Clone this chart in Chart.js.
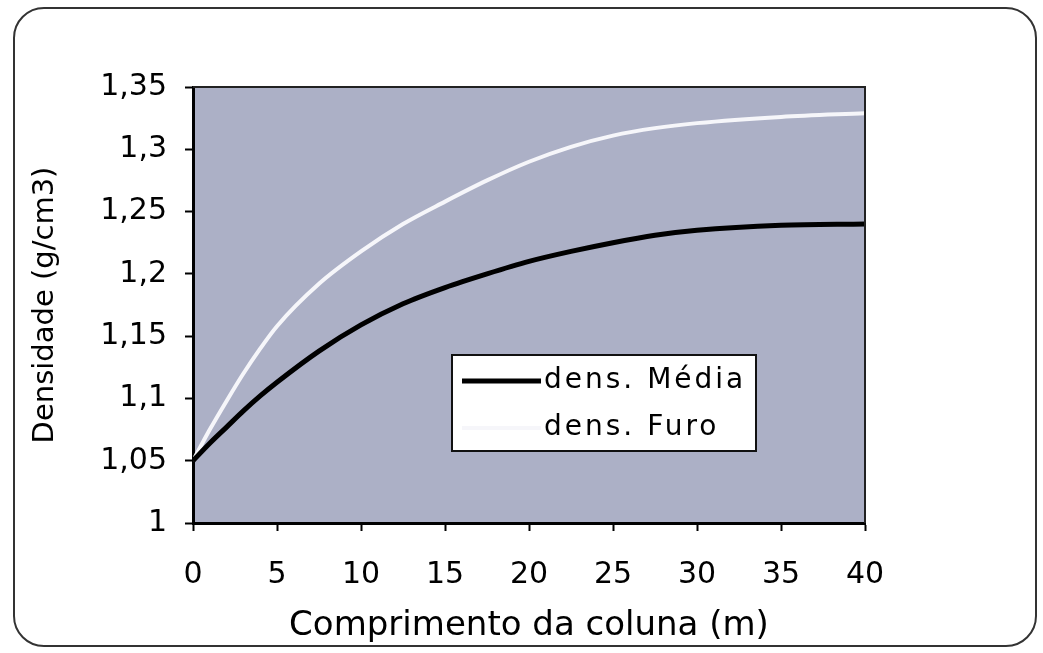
<!DOCTYPE html>
<html>
<head>
<meta charset="utf-8">
<script src="https://cdn.jsdelivr.net/npm/chart.js@4"></script>
<style>
  html, body { margin: 0; padding: 0; background: #fff; }
  #wrap { width: 1043px; height: 653px; }
</style>
</head>
<body>
<div id="wrap"><canvas id="dens_chart"></canvas></div>
<script>
// values
const comprimento = [0, 1, 2, 3, 4, 5, 7.5, 10, 12.5, 15, 17.5, 20, 22.5, 25, 27.5, 30, 35, 40];
const dens_media = [1.05, 1.064, 1.077, 1.090, 1.102, 1.113, 1.138, 1.159, 1.176, 1.189, 1.200, 1.210, 1.218, 1.225, 1.231, 1.235, 1.239, 1.240];
const dens_furo = [1.05, 1.075, 1.098, 1.120, 1.140, 1.158, 1.192, 1.218, 1.240, 1.258, 1.275, 1.290, 1.302, 1.311, 1.317, 1.321, 1.326, 1.329];
const series_labels = ["dens. Média", "dens. Furo"];
const x_title = "Comprimento da coluna (m)";
const y_title = "Densidade (g/cm3)";

const FONT = "'DejaVu Sans', sans-serif";

const toPoints = (ys) => comprimento.map((x, i) => ({ x: x, y: ys[i] }));

// page frame, plot background and top/right edges
const frame_plugin = {
    id: 'frame',
    beforeDraw(chart) {
        const ctx = chart.ctx;
        const a = chart.chartArea;
        ctx.save();
        ctx.fillStyle = '#acb0c6';
        ctx.fillRect(a.left, a.top, a.right - a.left, a.bottom - a.top);
        ctx.strokeStyle = '#333';
        ctx.lineWidth = 2;
        ctx.beginPath();
        ctx.roundRect(14, 8, 1022, 638, 30);
        ctx.stroke();
        ctx.restore();
    },
    afterDatasetsDraw(chart) {
        const ctx = chart.ctx;
        const a = chart.chartArea;
        ctx.save();
        ctx.strokeStyle = '#222';
        ctx.lineWidth = 2;
        ctx.beginPath();
        ctx.moveTo(a.left, a.top);
        ctx.lineTo(a.right, a.top);
        ctx.lineTo(a.right, a.bottom);
        ctx.stroke();
        ctx.restore();
    }
};

// legend box sitting inside the plot area
const legend_plugin = {
    id: 'inlegend',
    afterDatasetsDraw(chart) {
        const ctx = chart.ctx;
        const bx = 452, by = 355, bw = 304, bh = 96;
        ctx.save();
        ctx.fillStyle = '#fff';
        ctx.fillRect(bx, by, bw, bh);
        ctx.strokeStyle = '#111';
        ctx.lineWidth = 2;
        ctx.strokeRect(bx, by, bw, bh);
        chart.data.datasets.forEach((ds, i) => {
            const y = 381 + i * 47;
            ctx.strokeStyle = ds.borderColor;
            ctx.lineWidth = ds.borderWidth;
            ctx.beginPath();
            ctx.moveTo(462, y);
            ctx.lineTo(541, y);
            ctx.stroke();
            ctx.fillStyle = '#000';
            ctx.font = '28px ' + FONT;
            ctx.letterSpacing = '3px';
            ctx.textBaseline = 'middle';
            ctx.fillText(ds.label, 544, y);
        });
        ctx.restore();
    }
};

const line_config = {
    type: 'line',
    data: {
        datasets: [
            {
                label: series_labels[0],
                data: toPoints(dens_media),
                borderColor: '#000',
                borderWidth: 5,
                pointRadius: 0,
                cubicInterpolationMode: 'monotone'
            },
            {
                label: series_labels[1],
                data: toPoints(dens_furo),
                borderColor: '#f6f6fa',
                borderWidth: 4,
                pointRadius: 0,
                cubicInterpolationMode: 'monotone'
            }
        ]
    },
    options: {
        responsive: true,
        maintainAspectRatio: false,
        animation: false,
        layout: { padding: { left: 0, top: 87, right: 178, bottom: 0 } },
        plugins: {
            legend: { display: false },
            tooltip: { enabled: false }
        },
        scales: {
            x: {
                type: 'linear',
                min: 0,
                max: 40,
                afterFit: (s) => { s.height = 130; },
                ticks: { stepSize: 5, color: '#000', padding: 26, font: { family: FONT, size: 30 } },
                grid: { drawOnChartArea: false, tickLength: 8, color: '#000', tickWidth: 2 },
                border: { color: '#000', width: 3 },
                title: { display: true, text: x_title, color: '#000', padding: { bottom: 6 }, font: { family: FONT, size: 34 } }
            },
            y: {
                min: 1,
                max: 1.35,
                afterFit: (s) => { s.width = 193; },
                ticks: {
                    stepSize: 0.05,
                    color: '#000',
                    padding: 18,
                    font: { family: FONT, size: 30 },
                    callback: (v) => String(Math.round(v * 100) / 100).replace('.', ',')
                },
                grid: { drawOnChartArea: false, tickLength: 8, color: '#000', tickWidth: 2 },
                border: { color: '#000', width: 3 },
                title: { display: true, text: y_title, color: '#000', padding: { top: 28 }, font: { family: FONT, size: 29 } }
            }
        }
    },
    plugins: [frame_plugin, legend_plugin]
};

window.onload = function () {
    new Chart(document.getElementById("dens_chart").getContext('2d'), line_config);
};
</script>
</body>
</html>
